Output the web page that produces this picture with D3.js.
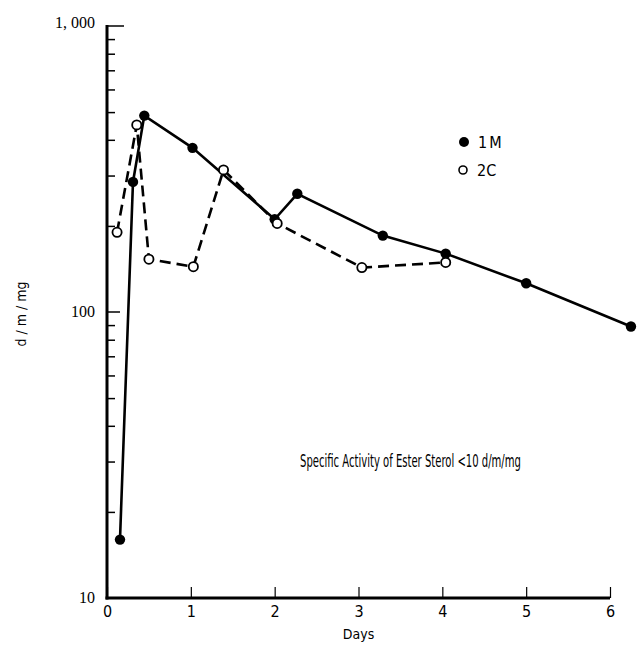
<!DOCTYPE html>
<html>
<head>
<meta charset="utf-8">
<script src="https://cdn.jsdelivr.net/npm/d3@7"></script>
<style>
  body { margin: 0; background: #fff; }
  svg text { fill: #000; }
</style>
</head>
<body>
<div id="chart"></div>
<script>
// Days and d/m/mg values.
const days1M = [0.155, 0.31, 0.445, 1.02, 2.0, 2.27, 3.29, 4.04, 5.0, 6.25];
const vals1M = [16, 285, 486, 375, 211, 259, 185, 160, 126, 89];
const days2C = [0.12, 0.355, 0.5, 1.03, 1.39, 2.03, 3.04, 4.04];
const vals2C = [190, 451, 153, 144, 314, 204, 143, 149];
const xTicks = [0, 1, 2, 3, 4, 5, 6];
const yMajor = [10, 100, 1000];
const yLabels = ["10", "100", "1, 000"];

const W = 639, H = 645;
const svg = d3.select("#chart").append("svg")
    .attr("width", W)
    .attr("height", H);

const x = d3.scaleLinear().domain([0, 6]).range([107, 610]);
const y = d3.scaleLog().domain([10, 1000]).range([598, 26]);

const narrow = "'DejaVu Sans Condensed', 'Liberation Sans Narrow', 'Liberation Sans', sans-serif";
const serif = "'Liberation Serif', 'DejaVu Serif', serif";

// Minor log ticks (inward, to the right of the axis).
let minor = [];
[10, 100].forEach(d => { for (let k = 2; k <= 9; k++) minor.push(d * k); });

svg.append("g")
    .attr("transform", `translate(${x(0)},0)`)
    .call(d3.axisRight(y).tickValues(minor).tickSize(8).tickFormat(""))
    .call(g => g.select(".domain").remove())
    .selectAll("line").attr("stroke", "#000").attr("stroke-width", 1.5);

// Major y ticks.
svg.append("g")
    .selectAll("line")
    .data([100, 1000])
    .join("line")
    .attr("x1", x(0)).attr("x2", d => x(0) + (d === 1000 ? 17 : 13))
    .attr("y1", d => y(d)).attr("y2", d => y(d))
    .attr("stroke", "#000").attr("stroke-width", 1.5);

// Y labels.
svg.append("g")
    .selectAll("text")
    .data(yMajor)
    .join("text")
    .attr("x", 95)
    .attr("y", (d, i) => y(d) + (i === 2 ? 2 : 5))
    .attr("text-anchor", "end")
    .attr("font-family", serif)
    .attr("font-size", 16)
    .text((d, i) => yLabels[i]);

// X axis ticks (upward) and labels.
svg.append("g")
    .attr("transform", `translate(0,${y(10)})`)
    .call(d3.axisBottom(x).tickValues(xTicks).tickSizeInner(-11).tickSizeOuter(0).tickPadding(8).tickFormat(d3.format("d")))
    .call(g => g.select(".domain").remove())
    .call(g => g.selectAll("line").attr("stroke", "#000").attr("stroke-width", 1.2))
    .call(g => g.selectAll("text").attr("font-family", narrow).attr("font-size", 16).attr("fill", "#000"));

// Axis lines.
svg.append("line")
    .attr("x1", x(0)).attr("x2", x(0))
    .attr("y1", y(1000) - 1).attr("y2", y(10) + 1.5)
    .attr("stroke", "#000").attr("stroke-width", 3);
svg.append("line")
    .attr("x1", x(0) - 1.5).attr("x2", x(6))
    .attr("y1", y(10)).attr("y2", y(10))
    .attr("stroke", "#000").attr("stroke-width", 3);

// Axis titles.
svg.append("text")
    .attr("x", x(3))
    .attr("y", 639)
    .attr("text-anchor", "middle")
    .attr("font-family", narrow)
    .attr("font-size", 14)
    .text("Days");

svg.append("text")
    .attr("transform", `translate(26,${y(100) + 2}) rotate(-90)`)
    .attr("text-anchor", "middle")
    .attr("font-family", narrow)
    .attr("font-size", 14)
    .text("d / m / mg");

// Series.
const pts1M = days1M.map((d, i) => ({ day: d, v: vals1M[i] }));
const pts2C = days2C.map((d, i) => ({ day: d, v: vals2C[i] }));

const line = d3.line()
    .x(d => x(d.day))
    .y(d => y(d.v));

svg.append("path")
    .datum(pts2C)
    .attr("fill", "none")
    .attr("stroke", "#000")
    .attr("stroke-width", 2.6)
    .attr("stroke-dasharray", "11,6")
    .attr("d", line);

svg.append("path")
    .datum(pts1M)
    .attr("fill", "none")
    .attr("stroke", "#000")
    .attr("stroke-width", 2.6)
    .attr("d", line);

svg.append("g")
    .selectAll("circle")
    .data(pts1M)
    .join("circle")
    .attr("cx", d => x(d.day))
    .attr("cy", d => y(d.v))
    .attr("r", 5.2)
    .attr("fill", "#000");

svg.append("g")
    .selectAll("circle")
    .data(pts2C)
    .join("circle")
    .attr("cx", d => x(d.day))
    .attr("cy", d => y(d.v))
    .attr("r", 4.6)
    .attr("fill", "#fff")
    .attr("stroke", "#000")
    .attr("stroke-width", 1.8);

// Legend.
const legend = svg.append("g");
legend.append("circle").attr("cx", 464).attr("cy", 142).attr("r", 5).attr("fill", "#000");
legend.append("circle").attr("cx", 463).attr("cy", 170).attr("r", 4).attr("fill", "#fff")
    .attr("stroke", "#000").attr("stroke-width", 1.6);
legend.append("text").attr("x", 478).attr("y", 148)
    .attr("font-family", narrow).attr("font-size", 16)
    .attr("letter-spacing", 2).text("1M");
legend.append("text").attr("x", 477).attr("y", 176)
    .attr("font-family", narrow).attr("font-size", 16)
    .text("2C");

// Annotation, squeezed horizontally to match the condensed original type.
const note = svg.append("text")
    .attr("font-family", narrow)
    .attr("font-size", 17.5)
    .text("Specific Activity of Ester Sterol <10 d/m/mg");
const noteW = note.node().getComputedTextLength();
note.attr("transform", `translate(300,467) scale(${221 / noteW},1)`);
</script>
</body>
</html>
